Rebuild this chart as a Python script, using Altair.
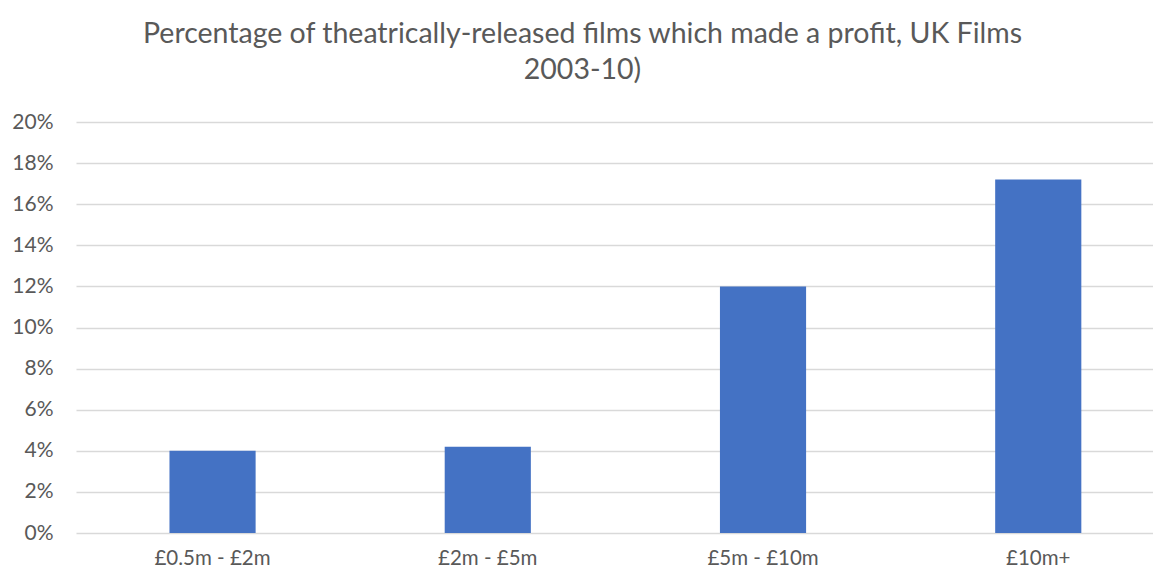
import altair as alt
import pandas as pd

categories = ["£0.5m - £2m", "£2m - £5m", "£5m - £10m", "£10m+"]
values = [0.04, 0.042, 0.12, 0.172]

df = pd.DataFrame({"cat": categories, "val": values})

FONT = "Lato"
GREY = "#595959"

chart = alt.Chart(df).mark_bar(color="#4472C4").encode(
    x=alt.X("cat:N", sort=categories, title=None,
            scale=alt.Scale(paddingInner=0.687, paddingOuter=0.3, align=0.566),
            axis=alt.Axis(labelAngle=0, labelFontSize=20.5, labelColor=GREY, labelFont=FONT,
                          ticks=False, domain=False, labelPadding=15, grid=False)),
    y=alt.Y("val:Q", title=None,
            scale=alt.Scale(domain=[0, 0.2]),
            axis=alt.Axis(format=".0%", values=[i / 100 for i in range(0, 21, 2)],
                          labelFontSize=21, labelColor=GREY, labelFont=FONT,
                          ticks=False, domain=False, labelPadding=23,
                          grid=True, gridColor="#d9d9d9", gridWidth=1.3)),
).properties(
    width=1077,
    height=411,
    title=alt.TitleParams(
        text=["Percentage of theatrically-released films which made a profit, UK Films", "2003-10)"],
        font=FONT, fontSize=28.5, fontWeight="normal", color=GREY,
        anchor="middle", frame="group", dx=-32, offset=27, lineHeight=36,
    ),
    padding={"left": 68, "top": 114, "right": 0, "bottom": 40},
    autosize=alt.AutoSizeParams(type="none"),
).configure_view(stroke=None)

chart.save("out.html", embed_options={"renderer": "svg", "actions": False})
